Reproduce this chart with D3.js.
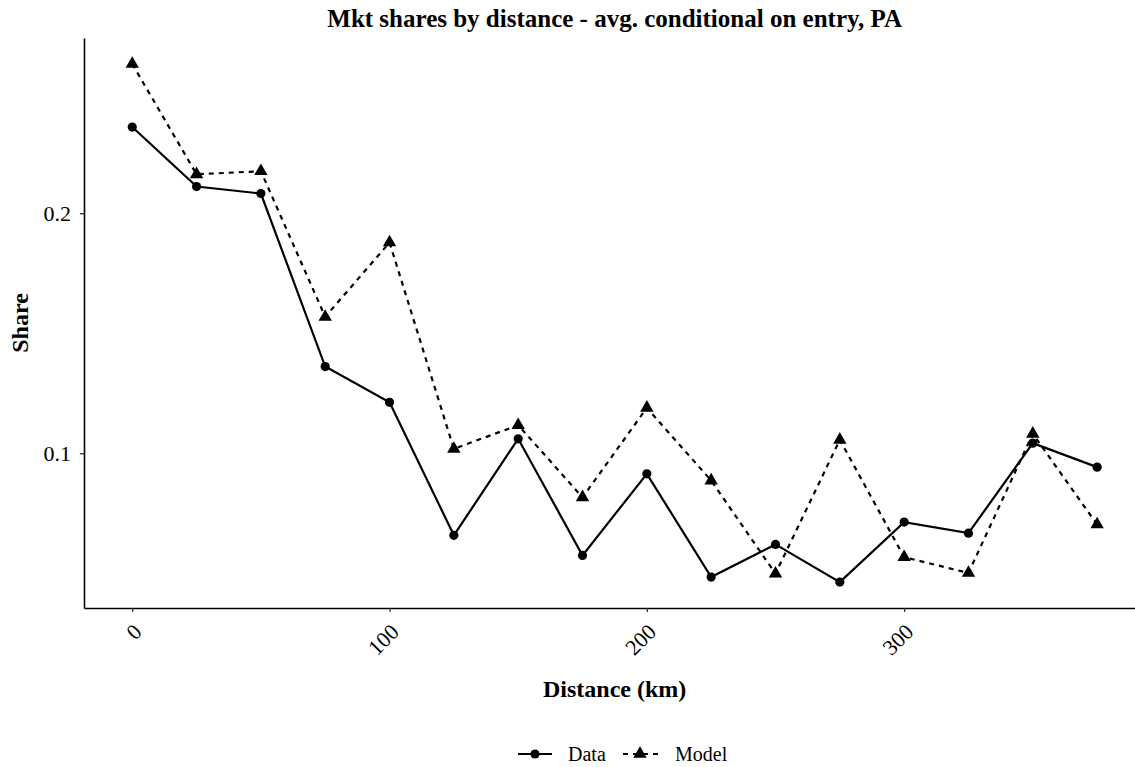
<!DOCTYPE html>
<html>
<head>
<meta charset="utf-8">
<script src="https://cdn.jsdelivr.net/npm/d3@7/dist/d3.min.js"></script>
<style>
  html, body { margin: 0; padding: 0; background: #fff; }
  svg, svg text { font-family: "Liberation Serif", "Times New Roman", serif; }
  svg { display: block; }
</style>
</head>
<body>
<svg id="chart" width="1135" height="767"></svg>
<script>
const distances = [0, 25, 50, 75, 100, 125, 150, 175, 200, 225, 250, 275, 300, 325, 350, 375];
const dataShare = [0.2359, 0.2111, 0.2082, 0.1361, 0.1212, 0.0658, 0.1060, 0.0574, 0.0914, 0.0484, 0.0620, 0.0463, 0.0713, 0.0667, 0.1042, 0.0942];
const modelShare = [0.2622, 0.2162, 0.2175, 0.1568, 0.1878, 0.1018, 0.1117, 0.0816, 0.1189, 0.0886, 0.0498, 0.1056, 0.0567, 0.0501, 0.1081, 0.0703];
const xTicks = [0, 100, 200, 300];
const yTicks = [0.1, 0.2];
const seriesNames = ["Data", "Model"];

const svg = d3.select("#chart");
const padLeft = 84, padTop = 38, padBottom = 608;
const serif = "'Liberation Serif', 'Times New Roman', serif";

const allY = dataShare.concat(modelShare);
const yMin = d3.min(allY), yMax = d3.max(allY);
const yPad = (yMax - yMin) * 0.05;
const y = d3.scaleLinear().domain([yMin - yPad, yMax + yPad]).range([padBottom, padTop]);

const xPad = (d3.max(distances) - d3.min(distances)) * 0.05;
const pxPerUnit = 2.573;
const x = d3.scaleLinear()
  .domain([d3.min(distances) - xPad, d3.max(distances) + xPad])
  .range([padLeft, padLeft + pxPerUnit * (d3.max(distances) - d3.min(distances) + 2 * xPad)]);
const padRight = x.range()[1];

// Axes
const xAxis = d3.axisBottom(x).tickValues(xTicks).tickSize(4).tickSizeOuter(0).tickFormat(d3.format("d"));
const gx = svg.append("g").attr("transform", `translate(0,${padBottom})`).call(xAxis)
  .attr("font-family", serif).attr("font-size", 22);
gx.select(".domain").attr("stroke", "#000").attr("stroke-width", 1.6);
gx.selectAll(".tick line").attr("stroke", "#333").attr("stroke-width", 1.3);
gx.selectAll(".tick text")
  .attr("fill", "#000")
  .attr("text-anchor", "end")
  .attr("y", 0).attr("dy", "0.72em")
  .attr("transform", "translate(-1,14) rotate(-45)");

const yAxis = d3.axisLeft(y).tickValues(yTicks).tickSize(4).tickSizeOuter(0).tickFormat(d3.format(".1f"));
const gy = svg.append("g").attr("transform", `translate(${padLeft},0)`).call(yAxis)
  .attr("font-family", serif).attr("font-size", 22);
gy.select(".domain").attr("stroke", "#000").attr("stroke-width", 1.6);
gy.selectAll(".tick line").attr("stroke", "#333").attr("stroke-width", 1.3);
gy.selectAll(".tick text").attr("fill", "#000").attr("x", -13);

// Lines
const pts = (vals) => distances.map((d, i) => [d, vals[i]]);
const line = d3.line().x(d => x(d[0])).y(d => y(d[1]));

svg.append("path").datum(pts(dataShare))
  .attr("d", line).attr("fill", "none").attr("stroke", "#000").attr("stroke-width", 2.2);
svg.append("path").datum(pts(modelShare))
  .attr("d", line).attr("fill", "none").attr("stroke", "#000").attr("stroke-width", 2.2)
  .attr("stroke-dasharray", "5,5");

svg.append("g").selectAll("circle").data(pts(dataShare)).join("circle")
  .attr("cx", d => x(d[0])).attr("cy", d => y(d[1])).attr("r", 4.6).attr("fill", "#000");

const tri = d3.symbol().type(d3.symbolTriangle).size(78);
svg.append("g").selectAll("path").data(pts(modelShare)).join("path")
  .attr("d", tri).attr("transform", d => `translate(${x(d[0])},${y(d[1])})`).attr("fill", "#000");

// Titles
const midX = (padLeft + padRight) / 2;
svg.append("text").attr("x", midX).attr("y", 27).attr("text-anchor", "middle")
  .style("font-size", "25px").style("font-weight", "bold")
  .text("Mkt shares by distance - avg. conditional on entry, PA");

svg.append("text").attr("x", midX).attr("y", 697).attr("text-anchor", "middle")
  .style("font-size", "24px").style("font-weight", "bold").text("Distance (km)");

svg.append("text").attr("transform", `translate(28,${(padTop + padBottom) / 2}) rotate(-90)`)
  .attr("text-anchor", "middle").style("font-size", "24px").style("font-weight", "bold").text("Share");

// Legend
const ly = 754;
const lg = svg.append("g");
lg.append("line").attr("x1", 518).attr("x2", 552).attr("y1", ly).attr("y2", ly)
  .attr("stroke", "#000").attr("stroke-width", 2.2);
lg.append("circle").attr("cx", 535).attr("cy", ly).attr("r", 4.6).attr("fill", "#000");
lg.append("text").attr("x", 568).attr("y", ly).attr("dy", "0.35em").style("font-size", "20px").text(seriesNames[0]);
lg.append("line").attr("x1", 623).attr("x2", 658).attr("y1", ly).attr("y2", ly)
  .attr("stroke", "#000").attr("stroke-width", 2.2).attr("stroke-dasharray", "5,5");
lg.append("path").attr("d", tri).attr("transform", `translate(640,${ly})`).attr("fill", "#000");
lg.append("text").attr("x", 675).attr("y", ly).attr("dy", "0.35em").style("font-size", "20px").text(seriesNames[1]);
</script>
</body>
</html>
